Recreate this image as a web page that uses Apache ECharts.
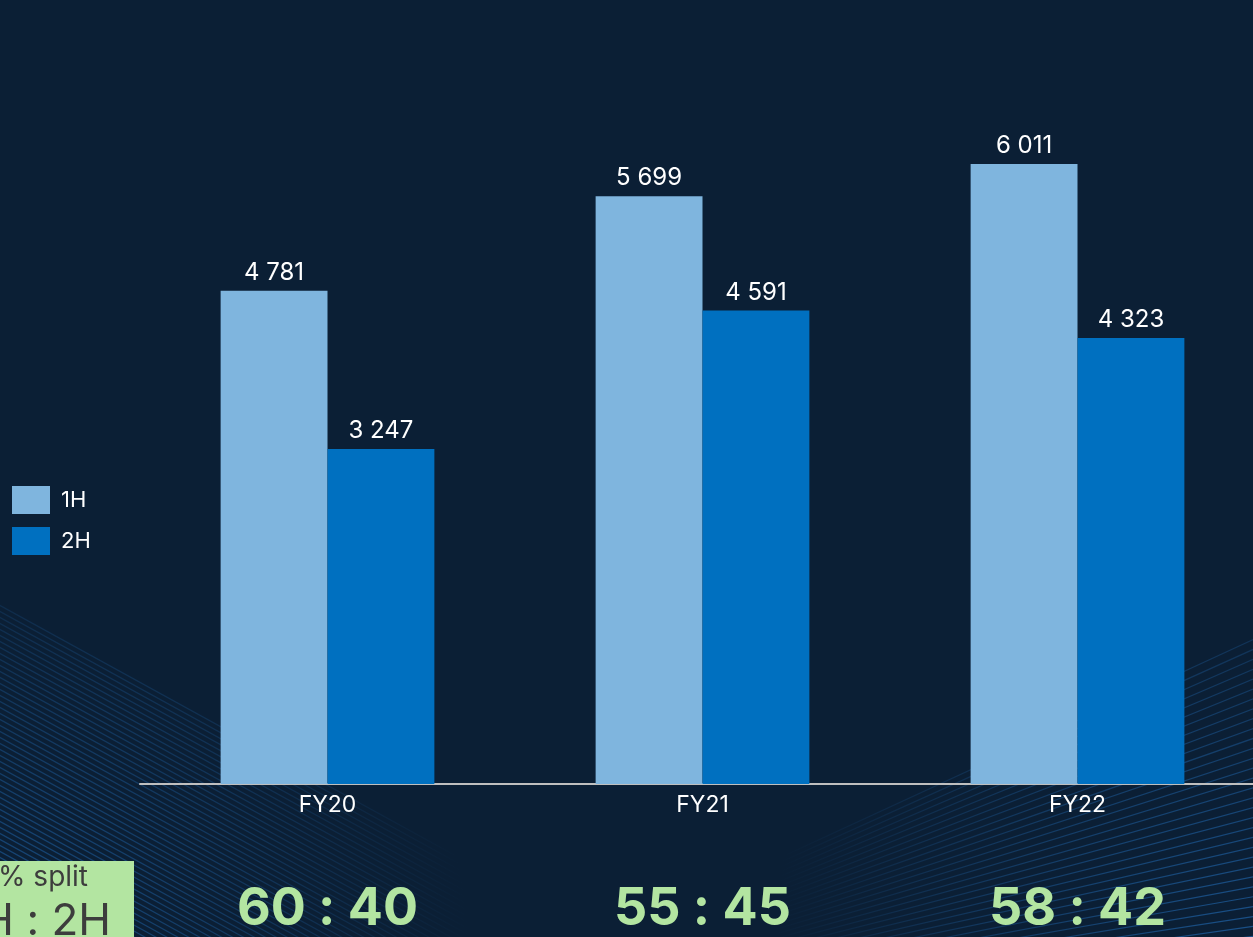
<!DOCTYPE html>
<html>
<head>
<meta charset="utf-8">
<style>
  html, body { margin: 0; padding: 0; background: #0b1f35; }
  #chart { width: 1253px; height: 937px; }
</style>
<script src="https://cdn.jsdelivr.net/npm/echarts@6/dist/echarts.min.js"></script>
</head>
<body>
<div id="chart"></div>
<script>
// Half-year split per financial year
const categories = ['FY20', 'FY21', 'FY22'];
const firstHalf = [4781, 5699, 6011];
const secondHalf = [3247, 4591, 4323];
const seriesNames = ['1H', '2H'];

const COLOR_1H = '#7fb5de';
const COLOR_2H = '#0070c0';
const GREEN = '#b3e5a1';
const FONT = 'Inter, "Noto Sans", sans-serif';

// "60 : 40" style share of the year earned in each half
const splitLabels = categories.map((_, i) => {
  const a = Math.round(100 * firstHalf[i] / (firstHalf[i] + secondHalf[i]));
  return a + ' : ' + (100 - a);
});

const fmt = v => String(v).replace(/\B(?=(\d{3})+(?!\d))/g, ' ');

// Decorative fine line pattern in the lower corners
const W = 1253, H = 937;
const glow = (cx, cy, r, a) => ({
  type: 'radial', x: cx, y: cy, r: r, global: true,
  colorStops: [
    { offset: 0, color: 'rgba(35,115,195,' + a + ')' },
    { offset: 0.55, color: 'rgba(35,115,195,' + (a * 0.5) + ')' },
    { offset: 1, color: 'rgba(35,115,195,0)' }
  ]
});
const deco = [];
const leftGlow = glow(0, H + 20, 470, 0.55);
for (let i = 0; i < 70; i++) {
  // lower-left family, running down to the right
  const y0 = 600 + i * 6;
  deco.push({
    type: 'line', silent: true, z: -10,
    shape: { x1: -10, y1: y0, x2: 600, y2: y0 + 335 },
    style: { lineWidth: 1.2, stroke: leftGlow }
  });
}
const rightGlow = glow(W, H + 10, 480, 0.6);
for (let i = 0; i < 32; i++) {
  // lower-right family, rising to the right and steepening upwards
  const yR = H + 8 - i * 10;
  const s = 0.12 + i * 0.011;
  const x0 = 560;
  deco.push({
    type: 'line', silent: true, z: -10,
    shape: { x1: x0, y1: yR + s * (W + 10 - x0), x2: W + 10, y2: yR },
    style: { lineWidth: 1.2, stroke: rightGlow }
  });
}

// Key box for the split figures
deco.push(
  { type: 'rect', z: 5, shape: { x: -40, y: 861, width: 174, height: 90 }, style: { fill: GREEN } },
  { type: 'text', z: 6, style: { text: '% split', x: 88, y: 878, align: 'right', verticalAlign: 'middle',
      fill: '#3d3d3d', font: '28px ' + FONT } },
  { type: 'text', z: 6, style: { text: '1H : 2H', x: 111, y: 922, align: 'right', verticalAlign: 'middle',
      fill: '#3d3d3d', font: '44px ' + FONT } }
);

const chart = echarts.init(document.getElementById('chart'), null, { renderer: 'canvas' });
chart.setOption({
  backgroundColor: '#0b1f35',
  animation: false,
  graphic: deco,
  legend: {
    orient: 'vertical',
    left: 7, top: 481,
    itemWidth: 38, itemHeight: 28, itemGap: 13,
    icon: 'rect',
    data: seriesNames,
    textStyle: { color: '#ffffff', fontSize: 22, fontFamily: FONT, padding: [0, 0, 0, 6] }
  },
  grid: { left: 140, width: 1125, top: 62, bottom: 153, containLabel: false, outerBoundsMode: 'none' },
  xAxis: [
    {
      type: 'category', data: categories,
      axisLine: { show: true, lineStyle: { color: '#bfbfbf', width: 2 } },
      axisTick: { show: false },
      axisLabel: { color: '#ffffff', fontSize: 23, fontFamily: FONT, margin: 10 }
    },
    {
      type: 'category', data: splitLabels, position: 'bottom',
      axisLine: { show: false }, axisTick: { show: false },
      axisLabel: { color: GREEN, fontSize: 52, fontWeight: 'bold', fontFamily: FONT, margin: 99 }
    }
  ],
  yAxis: { type: 'value', min: 0, max: 7000, show: false, splitLine: { show: false } },
  series: [
    {
      name: seriesNames[0], type: 'bar', data: firstHalf,
      barGap: '0%', barCategoryGap: '43%',
      itemStyle: { color: COLOR_1H },
      label: { show: true, position: 'top', distance: 6, color: '#ffffff', fontSize: 24, fontFamily: FONT,
        formatter: p => fmt(p.value) }
    },
    {
      name: seriesNames[1], type: 'bar', data: secondHalf,
      itemStyle: { color: COLOR_2H },
      label: { show: true, position: 'top', distance: 6, color: '#ffffff', fontSize: 24, fontFamily: FONT,
        formatter: p => fmt(p.value) }
    }
  ]
});
</script>
</body>
</html>
